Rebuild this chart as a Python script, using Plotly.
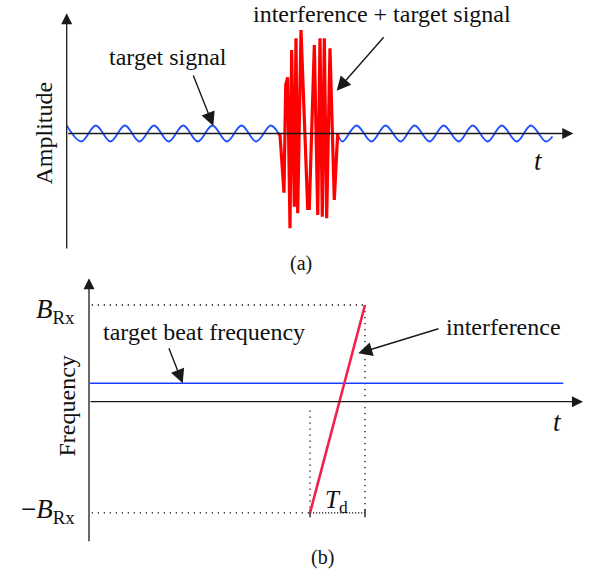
import plotly.graph_objects as go

# ---------------- data ----------------
# Panel (a): time (arbitrary units 0-100) and amplitude
target_t_pre = [0, 2.88, 5.75, 8.63, 11.5, 14.37, 17.25, 20.13, 23.0, 25.88, 28.76,
                31.63, 34.51, 37.4, 40.27, 41.81]
target_amp_pre = [0.8, -0.8, 0.8, -0.8, 0.8, -0.8, 0.8, -0.8, 0.8, -0.8, 0.8,
                  -0.8, 0.8, -0.8, 0.8, 0.0]
target_t_post = [53.45, 54.44, 57.21, 60.17, 62.94, 65.91, 68.67, 71.63, 74.41, 77.38,
                 80.14, 83.1, 85.88, 88.85, 91.61, 94.57, 95.9]
target_amp_post = [0.0, -0.8, 0.8, -0.8, 0.8, -0.8, 0.8, -0.8, 0.8, -0.8,
                   0.8, -0.8, 0.8, -0.8, 0.8, -0.8, -0.3]
burst_t = [41.77, 42.1, 42.89, 43.23, 43.62, 44.08, 44.41, 44.93, 45.26, 45.6, 46.25,
           47.57, 47.89, 48.88, 49.55, 50.0, 50.45, 50.85, 51.32, 51.97, 52.82, 53.42, 53.49]
burst_amp = [0.0, -0.15, -5.92, 4.85, 5.62, -9.48, 8.35, -7.32, 9.52, -7.98, 10.35,
             -7.48, -7.48, 8.85, -8.15, 9.52, -8.32, 9.52, -8.48, 8.52, -6.65, -0.65, 0.0]

# Panel (b): time (0-100) and frequency (B_Rx = 1)
beat_t = [0.2, 96.0]
beat_f = [0.19, 0.19]
chirp_t = [44.74, 55.87]
chirp_f = [-1.15, 1.0]
band_top = 1.0
band_bottom = -1.15

# ---------------- figure ----------------
W, H = 592, 574
def px(x):
    return x / W
def py(y):
    return 1 - y / H

FONT = "Liberation Serif, Times New Roman, serif"
AXC = "#1a1a1a"

fig = go.Figure()

# panel (a)
fig.add_trace(go.Scatter(x=target_t_pre, y=target_amp_pre, mode="lines",
                         line=dict(color="#1f50ff", width=1.8, shape="spline"),
                         xaxis="x", yaxis="y", hoverinfo="skip"))
fig.add_trace(go.Scatter(x=target_t_post, y=target_amp_post, mode="lines",
                         line=dict(color="#1f50ff", width=1.8, shape="spline"),
                         xaxis="x", yaxis="y", hoverinfo="skip"))
fig.add_trace(go.Scatter(x=burst_t, y=burst_amp, mode="lines",
                         line=dict(color="#ff0000", width=3.2),
                         xaxis="x", yaxis="y", hoverinfo="skip"))

# panel (b)
dot_sparse = "1.3px,4.7px"
fig.add_trace(go.Scatter(x=[0.55, chirp_t[1]], y=[band_top, band_top], mode="lines",
                         line=dict(color="#111", width=1.3, dash=dot_sparse),
                         xaxis="x2", yaxis="y2", hoverinfo="skip"))
fig.add_trace(go.Scatter(x=[0.55, chirp_t[0]], y=[band_bottom, band_bottom], mode="lines",
                         line=dict(color="#111", width=1.3, dash=dot_sparse),
                         xaxis="x2", yaxis="y2", hoverinfo="skip"))
fig.add_trace(go.Scatter(x=[chirp_t[0], chirp_t[0]], y=[-0.09, band_bottom], mode="lines",
                         line=dict(color="#111", width=1.3, dash=dot_sparse),
                         xaxis="x2", yaxis="y2", hoverinfo="skip"))
fig.add_trace(go.Scatter(x=[chirp_t[1], chirp_t[1]], y=[band_top, band_bottom], mode="lines",
                         line=dict(color="#111", width=1.3, dash=dot_sparse),
                         xaxis="x2", yaxis="y2", hoverinfo="skip"))
fig.add_trace(go.Scatter(x=[chirp_t[0], chirp_t[1]], y=[band_bottom, band_bottom], mode="lines",
                         line=dict(color="#111", width=1.3, dash="1.2px,1.8px"),
                         xaxis="x2", yaxis="y2", hoverinfo="skip"))
for tt in chirp_t:
    fig.add_trace(go.Scatter(x=[tt, tt], y=[band_bottom + 0.035, band_bottom - 0.045], mode="lines",
                             line=dict(color="#111", width=1.3),
                             xaxis="x2", yaxis="y2", hoverinfo="skip"))
fig.add_trace(go.Scatter(x=beat_t, y=beat_f, mode="lines",
                         line=dict(color="#1c3cff", width=1.5),
                         xaxis="x2", yaxis="y2", hoverinfo="skip"))
fig.add_trace(go.Scatter(x=chirp_t, y=chirp_f, mode="lines",
                         line=dict(color="#f4204c", width=2.6),
                         xaxis="x2", yaxis="y2", hoverinfo="skip"))

ann = []
def arrow(x, y, ax, ay, xr, yr, width=1.4, size=2.0, color=AXC):
    ann.append(dict(x=x, y=y, ax=ax, ay=ay, xref=xr, yref=yr, axref=xr, ayref=yr,
                    showarrow=True, arrowhead=2, arrowsize=size, arrowwidth=width,
                    arrowcolor=color, text=""))

# axes arrows
arrow(0, 12.02, 0, -11.65, "x", "y", width=1.3, size=1.7)
arrow(100, 0, 0, 0, "x", "y", width=1.3, size=1.7)
arrow(0, 1.276, 0, -1.458, "x2", "y2", width=1.3, size=1.7)
arrow(100, 0, 0, 0, "x2", "y2", width=1.3, size=1.7)
# pointer arrows
arrow(28.94, 0.75, 24.87, 5.95, "x", "y")
arrow(53.3, 4.28, 62.83, 9.78, "x", "y")
arrow(18.97, 0.19, 16.05, 0.569, "x2", "y2")
arrow(54.51, 0.5, 71.05, 0.759, "x2", "y2")

def text(t, x, y, size=24, angle=0, xanchor="center", yanchor="middle"):
    ann.append(dict(text=t, x=px(x), y=py(y), xref="paper", yref="paper",
                    showarrow=False, textangle=angle, xanchor=xanchor, yanchor=yanchor,
                    font=dict(family=FONT, size=size, color="#111")))

text("Amplitude", 43, 132.5, angle=-90)
text("target signal", 167.5, 57)
text("interference + target signal", 381.7, 14)
text("<i>t</i>", 538, 161, size=27)
text("(a)", 300.5, 263, size=20)

text("Frequency", 66.5, 406, angle=-90)
text("target beat frequency", 204, 332)
text("interference", 503.3, 327)
text("<i>t</i>", 557, 422, size=27)
text("<i>B</i><sub>Rx</sub>", 77, 311, size=27, xanchor="right")
text("\u2212<i>B</i><sub>Rx</sub>", 77, 511, size=27, xanchor="right")
text("<i>T</i><sub>d</sub>", 336, 501, size=25)
text("(b)", 322, 557, size=20)

fig.update_layout(
    width=W, height=H, margin=dict(l=0, r=0, t=0, b=0),
    paper_bgcolor="white", plot_bgcolor="white", showlegend=False,
    annotations=ann,
    xaxis=dict(domain=[px(66.7), px(573.3)], range=[0, 100], visible=False),
    yaxis=dict(domain=[py(250), py(13.3)], range=[-11.65, 12.02], visible=False),
    xaxis2=dict(domain=[px(89), px(583)], range=[0, 100], visible=False, anchor="y2"),
    yaxis2=dict(domain=[py(542.7), py(278.3)], range=[-1.458, 1.276], visible=False, anchor="x2"),
)

fig.write_html("out.html")
